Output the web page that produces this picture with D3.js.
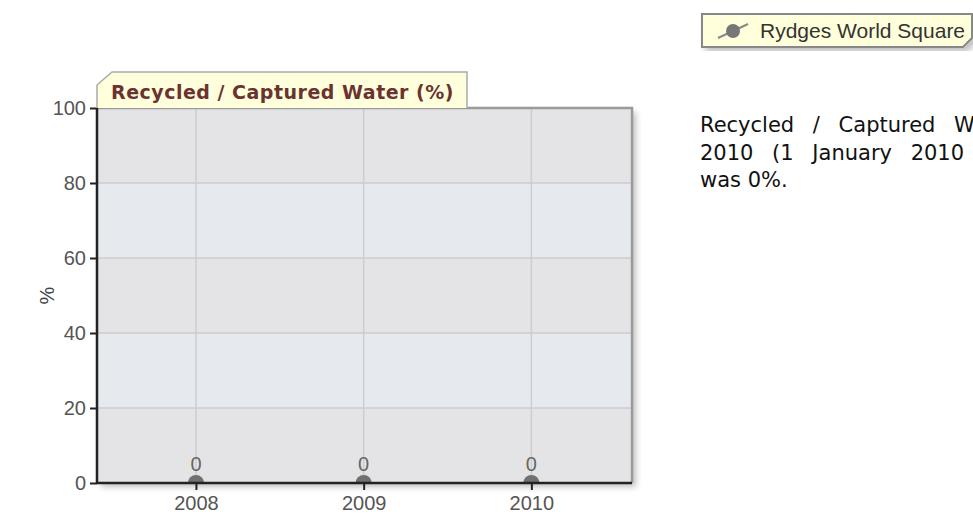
<!DOCTYPE html>
<html>
<head>
<meta charset="utf-8">
<script src="https://cdn.jsdelivr.net/npm/d3@7"></script>
<style>
  body { margin: 0; background: #fff; overflow: hidden; }
  svg { display: block; }
</style>
</head>
<body>
<div id="chart"></div>
<script>
// Data
let years = [2008, 2009, 2010];
let values = [0, 0, 0];
let yTicks = [0, 20, 40, 60, 80, 100];
let seriesName = "Rydges World Square";
let chartTitle = "Recycled / Captured Water (%)";
let summaryLines = [
  "Recycled / Captured Water (%) for Rydges World Square in",
  "2010 (1 January 2010 - 31 December 2010)",
  "was 0%."
];

let W = 973, H = 521;
let plot = { left: 97, right: 632, top: 108, bottom: 483 };

let svg = d3.select("#chart").append("svg")
  .attr("width", W)
  .attr("height", H);

let defs = svg.append("defs");
let shadow = defs.append("filter").attr("id", "shadow")
  .attr("x", "-5%").attr("y", "-5%").attr("width", "115%").attr("height", "115%");
shadow.append("feGaussianBlur").attr("in", "SourceAlpha").attr("stdDeviation", 3);
shadow.append("feOffset").attr("dx", 4).attr("dy", 4).attr("result", "b");
shadow.append("feComponentTransfer").append("feFuncA").attr("type", "linear").attr("slope", 0.25);
let merge = shadow.append("feMerge");
merge.append("feMergeNode");
merge.append("feMergeNode").attr("in", "SourceGraphic");

defs.append("clipPath").attr("id", "plotclip")
  .append("rect")
  .attr("x", plot.left).attr("y", plot.top)
  .attr("width", plot.right - plot.left)
  .attr("height", plot.bottom - plot.top);

// scales
let x = d3.scaleLinear()
  .domain([years[0] - 0.59, years[years.length - 1] + 0.6])
  .range([plot.left, plot.right]);
let y = d3.scaleLinear().domain([0, 100]).range([plot.bottom, plot.top]);

// plot background with shadow
svg.append("rect")
  .attr("x", plot.left).attr("y", plot.top)
  .attr("width", plot.right - plot.left)
  .attr("height", plot.bottom - plot.top)
  .attr("fill", "#e4e4e6")
  .attr("filter", "url(#shadow)");

// alternating bands
let bands = d3.pairs(yTicks);
svg.append("g").selectAll("rect")
  .data(bands)
  .join("rect")
  .attr("x", plot.left)
  .attr("y", d => y(d[1]))
  .attr("width", plot.right - plot.left)
  .attr("height", d => y(d[0]) - y(d[1]))
  .attr("fill", (d, i) => i % 2 == 1 ? "#e6eaee" : "#e4e4e6");

// grid
let grid = svg.append("g").attr("stroke", "#cdcdd0").attr("stroke-width", 1.5);
grid.selectAll(".hg")
  .data(yTicks.slice(1, -1))
  .join("line")
  .attr("x1", plot.left).attr("x2", plot.right)
  .attr("y1", d => y(d)).attr("y2", d => y(d));
grid.selectAll(".vg")
  .data(years)
  .join("line")
  .attr("x1", d => x(d)).attr("x2", d => x(d))
  .attr("y1", plot.top).attr("y2", plot.bottom);

// top / right border
svg.append("path")
  .attr("d", `M${plot.left},${plot.top}H${plot.right}V${plot.bottom}`)
  .attr("fill", "none")
  .attr("stroke", "#9a9a9a")
  .attr("stroke-width", 2.5);

// points (half hidden below axis)
svg.append("g")
  .attr("clip-path", "url(#plotclip)")
  .selectAll("circle")
  .data(years)
  .join("circle")
  .attr("cx", d => x(d))
  .attr("cy", (d, i) => y(values[i]))
  .attr("r", 8)
  .attr("fill", "#707070");

// axes
let yAxis = svg.append("g")
  .attr("transform", `translate(${plot.left},0)`)
  .call(d3.axisLeft(y).tickValues(yTicks).tickSize(7).tickPadding(4));
let xAxis = svg.append("g")
  .attr("transform", `translate(0,${plot.bottom})`)
  .call(d3.axisBottom(x).tickValues(years).tickFormat(d3.format("d")).tickSize(7).tickPadding(6));

[yAxis, xAxis].forEach(a => {
  a.select(".domain").attr("stroke", "#222").attr("stroke-width", 2.5);
  a.selectAll(".tick line").attr("stroke", "#222").attr("stroke-width", 2);
  a.selectAll(".tick text")
    .attr("fill", "#555")
    .style("font-family", "Liberation Sans, Arial, sans-serif")
    .style("font-size", "20px");
});
xAxis.select(".domain").attr("d", `M${plot.left},0H${plot.right}`);
yAxis.select(".domain").attr("d", `M0,${plot.top}V${plot.bottom}`);

// data labels
svg.append("g").selectAll("text")
  .data(years)
  .join("text")
  .attr("x", d => x(d))
  .attr("y", (d, i) => y(values[i]) - 12)
  .attr("text-anchor", "middle")
  .attr("fill", "#666")
  .style("font-family", "Liberation Sans, Arial, sans-serif")
  .style("font-size", "20px")
  .text((d, i) => values[i]);

// y axis title
svg.append("text")
  .attr("transform", `translate(54,${(plot.top + plot.bottom) / 2}) rotate(-90)`)
  .attr("text-anchor", "middle")
  .attr("fill", "#444")
  .style("font-family", "Liberation Sans, Arial, sans-serif")
  .style("font-size", "20px")
  .text("%");

// title tab
let tab = svg.append("g");
tab.append("path")
  .attr("d", `M${plot.left},${plot.top}V85L112,72H467V${plot.top}`)
  .attr("fill", "#ffffdb")
  .attr("stroke", "#aaa")
  .attr("stroke-width", 1.5);
tab.append("text")
  .attr("x", 111)
  .attr("y", 99)
  .attr("fill", "#6b3232")
  .attr("letter-spacing", 0.5)
  .style("font-family", "DejaVu Sans, Verdana, sans-serif")
  .style("font-weight", "bold")
  .style("font-size", "19px")
  .text(chartTitle);

// legend
let legend = svg.append("g");
legend.append("path")
  .attr("d", "M702,14H972V38L963,47H702Z")
  .attr("fill", "#ffffdb")
  .attr("stroke", "#888")
  .attr("stroke-width", 2)
  .attr("filter", "url(#shadow)");
legend.append("line")
  .attr("x1", 718).attr("y1", 38).attr("x2", 748).attr("y2", 24)
  .attr("stroke", "#888").attr("stroke-width", 2);
legend.append("circle")
  .attr("cx", 733).attr("cy", 31).attr("r", 7)
  .attr("fill", "#777");
legend.append("text")
  .attr("x", 760)
  .attr("y", 38)
  .attr("fill", "#333")
  .style("font-family", "Liberation Sans, Arial, sans-serif")
  .style("font-size", "21px")
  .text(seriesName);

// summary paragraph
svg.append("g").selectAll("text")
  .data(summaryLines)
  .join("text")
  .attr("x", 700)
  .attr("y", (d, i) => 132 + i * 27.5)
  .attr("fill", "#111")
  .attr("word-spacing", (d, i) => i < 2 ? 12 : 0)
  .style("font-family", "DejaVu Sans, Verdana, sans-serif")
  .style("font-size", "21px")
  .text(d => d);
</script>
</body>
</html>
